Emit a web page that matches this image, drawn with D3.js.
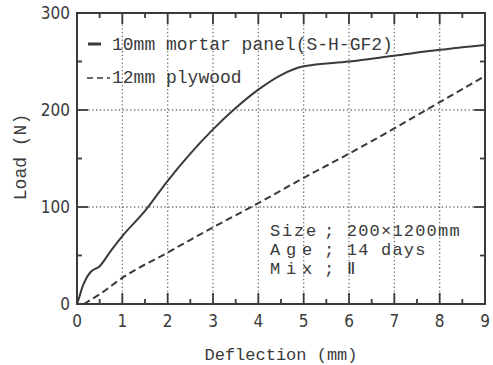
<!DOCTYPE html>
<html>
<head>
<meta charset="utf-8">
<script src="https://cdn.jsdelivr.net/npm/d3@7"></script>
<style>
  body { margin: 0; background: #fff; }
  svg text { font-family: "Liberation Mono", "DejaVu Sans Mono", monospace; fill: #3a3a3a; }
  svg text.tick-num { font-family: "DejaVu Sans Condensed", "Liberation Sans", sans-serif; }
</style>
</head>
<body>
<div id="main"></div>
<script>
// mortar panel curve (deflection mm, load N)
const mortarX = [0, 0.05, 0.1, 0.2, 0.3, 0.5, 0.75, 1, 1.5, 2, 2.5, 3, 3.5, 4, 4.5, 5, 6, 7, 8, 9];
const mortarY = [0, 7, 15, 26, 33, 39, 55, 70, 96, 127, 155, 180, 202, 221, 236, 245, 250, 256, 262, 267];
// plywood curve
const plyX = [0.15, 0.5, 1, 2, 3, 4, 5, 6, 7, 8, 9];
const plyY = [0, 10, 27, 53, 79, 104, 130, 155, 181, 208, 235];

const xTicks = [0, 1, 2, 3, 4, 5, 6, 7, 8, 9];
const yTicks = [0, 100, 200, 300];
const xMinor = [0.5, 1.5, 2.5, 3.5, 4.5, 5.5, 6.5, 7.5, 8.5];
const yMinor = [50, 150, 250];
const xGrid = [1, 2, 3, 4, 5, 6, 7, 8];
const yGrid = [100, 200];
const legendLabels = ['10mm mortar panel(S-H-GF2)', '12mm plywood'];
const infoKeys = ['Size', 'Age', 'Mix'];
const infoVals = ['; 200×1200mm', '; 14 days', '; Ⅱ'];

const W = 493, H = 365;
const mLeft = 77, mRight = 485, mTop = 13, mBottom = 304;
const ink = '#3a3a3a';

const svg = d3.select('#main').append('svg')
    .attr('width', W)
    .attr('height', H);

const xScale = d3.scaleLinear().domain([0, 9]).range([mLeft, mRight]);
const yScale = d3.scaleLinear().domain([0, 300]).range([mBottom, mTop]);

// dotted grid
svg.selectAll('line.gx')
    .data(xGrid)
    .join('line')
    .attr('class', 'gx')
    .attr('x1', d => xScale(d)).attr('x2', d => xScale(d))
    .attr('y1', mTop).attr('y2', mBottom)
    .style('stroke', '#707070').style('stroke-width', '1.3px')
    .style('stroke-dasharray', '1.3 2.5');

svg.selectAll('line.gy')
    .data(yGrid)
    .join('line')
    .attr('class', 'gy')
    .attr('x1', mLeft).attr('x2', mRight)
    .attr('y1', d => yScale(d)).attr('y2', d => yScale(d))
    .style('stroke', '#707070').style('stroke-width', '1.3px')
    .style('stroke-dasharray', '1.3 2.5');

// inward ticks, bottom and top
function xTickMarks(cls, values, len) {
    svg.selectAll('line.' + cls + 'b')
        .data(values)
        .join('line')
        .attr('class', cls + 'b')
        .attr('x1', d => xScale(d)).attr('x2', d => xScale(d))
        .attr('y1', mBottom).attr('y2', mBottom - len)
        .style('stroke', ink).style('stroke-width', '1.8px');
    svg.selectAll('line.' + cls + 't')
        .data(values)
        .join('line')
        .attr('class', cls + 't')
        .attr('x1', d => xScale(d)).attr('x2', d => xScale(d))
        .attr('y1', mTop).attr('y2', mTop + len)
        .style('stroke', ink).style('stroke-width', '1.8px');
}
// inward ticks, left and right
function yTickMarks(cls, values, len) {
    svg.selectAll('line.' + cls + 'l')
        .data(values)
        .join('line')
        .attr('class', cls + 'l')
        .attr('x1', mLeft).attr('x2', mLeft + len)
        .attr('y1', d => yScale(d)).attr('y2', d => yScale(d))
        .style('stroke', ink).style('stroke-width', '1.8px');
    svg.selectAll('line.' + cls + 'r')
        .data(values)
        .join('line')
        .attr('class', cls + 'r')
        .attr('x1', mRight).attr('x2', mRight - len)
        .attr('y1', d => yScale(d)).attr('y2', d => yScale(d))
        .style('stroke', ink).style('stroke-width', '1.8px');
}
xTickMarks('xmaj', xTicks, 11);
xTickMarks('xmin', xMinor, 5);
yTickMarks('ymaj', yTicks, 11);
yTickMarks('ymin', yMinor, 5);

// frame
svg.append('rect')
    .attr('x', mLeft).attr('y', mTop)
    .attr('width', mRight - mLeft).attr('height', mBottom - mTop)
    .style('fill', 'none').style('stroke', ink).style('stroke-width', '2px');

// tick labels
svg.selectAll('text.xl')
    .data(xTicks)
    .join('text')
    .attr('class', 'tick-num xl')
    .attr('x', d => xScale(d)).attr('y', mBottom + 23)
    .attr('text-anchor', 'middle')
    .attr('font-size', 17)
    .text(d => d);

svg.selectAll('text.yl')
    .data(yTicks)
    .join('text')
    .attr('class', 'tick-num yl')
    .attr('x', mLeft - 7).attr('y', d => yScale(d) + 6)
    .attr('text-anchor', 'end')
    .attr('font-size', 17)
    .text(d => d);

// axis labels
svg.append('text')
    .attr('transform', 'translate(26,157) rotate(-90)')
    .attr('text-anchor', 'middle')
    .attr('font-size', 18)
    .text('Load (N)');

svg.append('text')
    .attr('x', 281).attr('y', 360)
    .attr('text-anchor', 'middle')
    .attr('font-size', 17)
    .text('Deflection (mm)');

// data lines
const lineGen = d3.line()
    .curve(d3.curveMonotoneX)
    .x(d => xScale(d[0]))
    .y(d => yScale(d[1]));

svg.append('path')
    .datum(mortarX.map((x, i) => [x, mortarY[i]]))
    .style('fill', 'none').style('stroke', ink).style('stroke-width', '2px')
    .attr('d', lineGen);

svg.append('path')
    .datum(plyX.map((x, i) => [x, plyY[i]]))
    .style('fill', 'none').style('stroke', ink).style('stroke-width', '2px')
    .style('stroke-dasharray', '7 4')
    .attr('d', lineGen);

// legend
svg.append('line')
    .attr('x1', 88).attr('x2', 101).attr('y1', 44).attr('y2', 44)
    .style('stroke', ink).style('stroke-width', '3px');
svg.append('line')
    .attr('x1', 87).attr('x2', 110).attr('y1', 78).attr('y2', 78)
    .style('stroke', ink).style('stroke-width', '1.6px')
    .style('stroke-dasharray', '6 4');

svg.selectAll('text.leg')
    .data(legendLabels)
    .join('text')
    .attr('class', 'leg')
    .attr('x', 112).attr('y', (d, i) => 50 + i * 33)
    .attr('font-size', 18)
    .text(d => d);

// info block: keys spread to the same width
svg.selectAll('text.key')
    .data(infoKeys)
    .join('text')
    .attr('class', 'key')
    .attr('x', 270).attr('y', (d, i) => 236 + i * 19)
    .attr('font-size', 17)
    .attr('letter-spacing', d => (48 - 10.2 * d.length) / d.length)
    .text(d => d);
svg.selectAll('text.val')
    .data(infoVals)
    .join('text')
    .attr('class', 'val')
    .attr('x', 324).attr('y', (d, i) => 236 + i * 19)
    .attr('font-size', 17)
    .attr('letter-spacing', 1.2)
    .text(d => d);
</script>
</body>
</html>
